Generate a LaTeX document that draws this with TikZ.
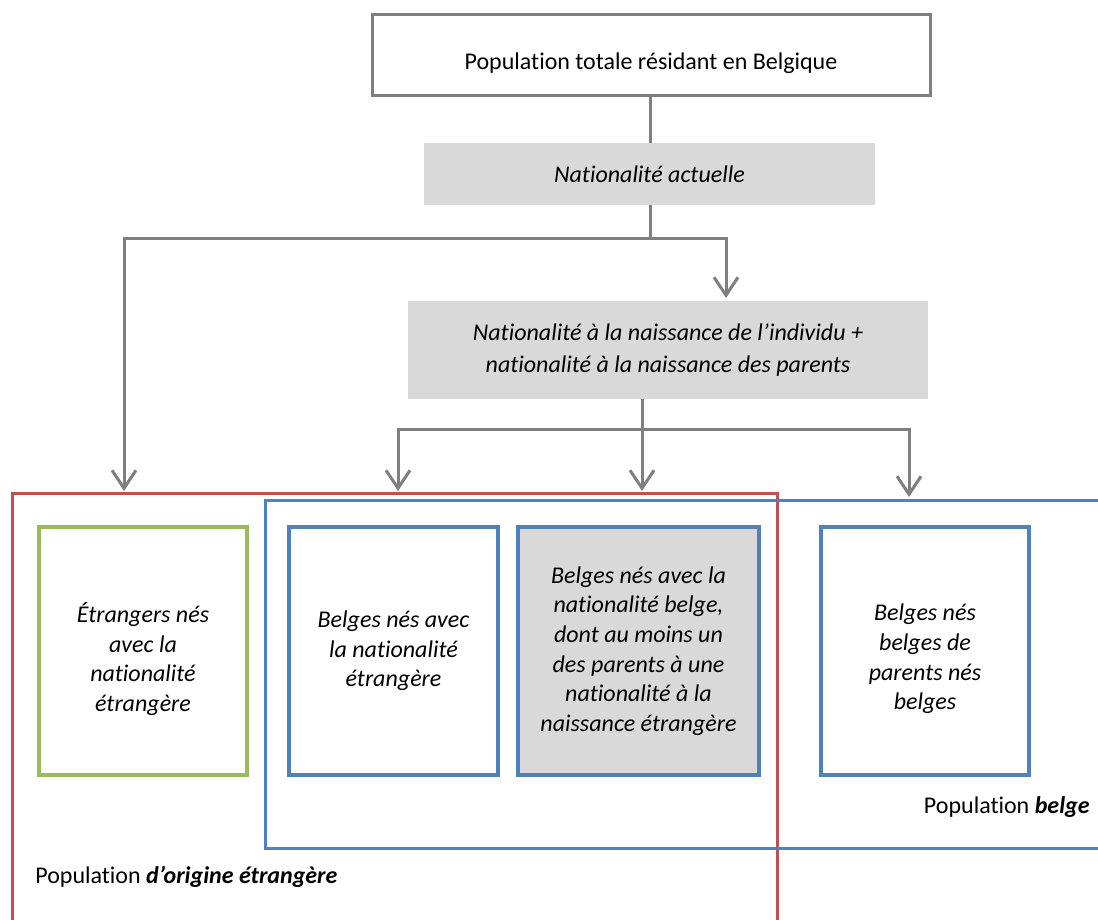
\documentclass[tikz,border=0pt]{standalone}
\usepackage{fontspec}
\setmainfont{Carlito}[Ligatures=NoCommon]
\usetikzlibrary{arrows.meta}
\definecolor{linegray}{HTML}{7F7F7F}
\definecolor{boxgray}{HTML}{D9D9D9}
\definecolor{framered}{HTML}{C0504D}
\definecolor{frameblue}{HTML}{4F81BD}
\definecolor{framegreen}{HTML}{9BBB59}
\tikzset{
  basetext/.style={font=\fontsize{12}{14.8}\selectfont, align=center, inner sep=0pt, text=black},
  topbox/.style={basetext, draw=linegray, line width=1.5pt, fill=white},
  graybox/.style={basetext, font=\fontsize{12}{16}\selectfont\itshape, fill=boxgray},
  catbox/.style={basetext, font=\fontsize{12}{14.8}\selectfont\itshape, line width=2pt},
  conn/.style={draw=linegray, line width=1.5pt},
  arrowline/.style={conn, -{Straight Barb[length=9pt,width=12pt,line width=1.5pt]}},
  frame/.style={line width=1.5pt},
  caption/.style={font=\fontsize{12}{14.8}\selectfont, inner sep=0pt}
}
\begin{document}
\begin{tikzpicture}[x=0.5pt, y=-0.5pt]
\useasboundingbox (0,0) rectangle (1098,920);
\clip (0,0) rectangle (1098,920);
\fill[white] (0,0) rectangle (1098,920);

% outer groups: foreign origin (red) and Belgian population (blue)
\draw[frame, draw=framered] (12,940) -- (12,493) -- (777,493) -- (777,940);
\draw[frame, draw=frameblue] (1110,500) -- (265,500) -- (265,848) -- (1110,848);

% decision boxes
\node[topbox, minimum width=279pt, minimum height=40.5pt] (top) at (651,55.5) {};
\node[basetext, anchor=center] (toptext) at (651,63) {Population totale résidant en Belgique};
\node[graybox, minimum width=225.5pt, minimum height=31pt] (nat) at (649.5,174)
  {Nationalité actuelle};
\node[graybox, minimum width=260pt, minimum height=49pt] (natbirth) at (668,350)
  {Nationalité à la naissance de l’individu +\\nationalité à la naissance des parents};

% categories
\node[catbox, draw=framegreen, minimum width=104pt, minimum height=124pt] (etr) at (143,651) {};
\node[basetext, font=\fontsize{12}{14.8}\selectfont\itshape] (etrtext) at (143,659)
  {Étrangers nés\\avec la\\nationalité\\étrangère};
\node[catbox, draw=frameblue, minimum width=104.5pt, minimum height=124pt] (bet) at (393.5,651)
  {Belges nés avec\\la nationalité\\étrangère};
\node[catbox, draw=frameblue, fill=boxgray, minimum width=120.5pt, minimum height=124pt] (bpar) at (638.5,651)
  {Belges nés avec la\\nationalité belge,\\dont au moins un\\des parents à une\\nationalité à la\\naissance étrangère};
\node[catbox, draw=frameblue, minimum width=104pt, minimum height=124pt] (bbel) at (925,651) {};
\node[basetext, font=\fontsize{12}{14.8}\selectfont\itshape] (bbeltext) at (925,659)
  {Belges nés\\belges de\\parents nés\\belges};

% group captions
\node[caption, anchor=east] (capbe) at (1090,807) {Population \textbf{\textit{belge}}};
\node[caption, anchor=west] (capor) at (35,877) {Population \textbf{\textit{d’origine étrangère}}};

% branching points and arrow ends
\coordinate (split1) at (650,238);
\coordinate (endA) at (124,491);
\coordinate (endB) at (726,298);
\coordinate (split2) at (642,429);
\coordinate (endC) at (398,491);
\coordinate (endD) at (642,491);
\coordinate (endE) at (909,497);

% connectors
\draw[conn] (top.south -| split1) -- (nat.north -| split1);
\draw[conn] (nat.south -| split1) -- (split1);
\draw[arrowline] (split1) -| (endA);
\draw[arrowline] (split1) -| (endB);
\draw[conn] (natbirth.south -| split2) -- (split2);
\draw[arrowline] (split2) -| (endC);
\draw[arrowline] (split2) -- (endD);
\draw[arrowline] (split2) -| (endE);
\end{tikzpicture}
\end{document}
